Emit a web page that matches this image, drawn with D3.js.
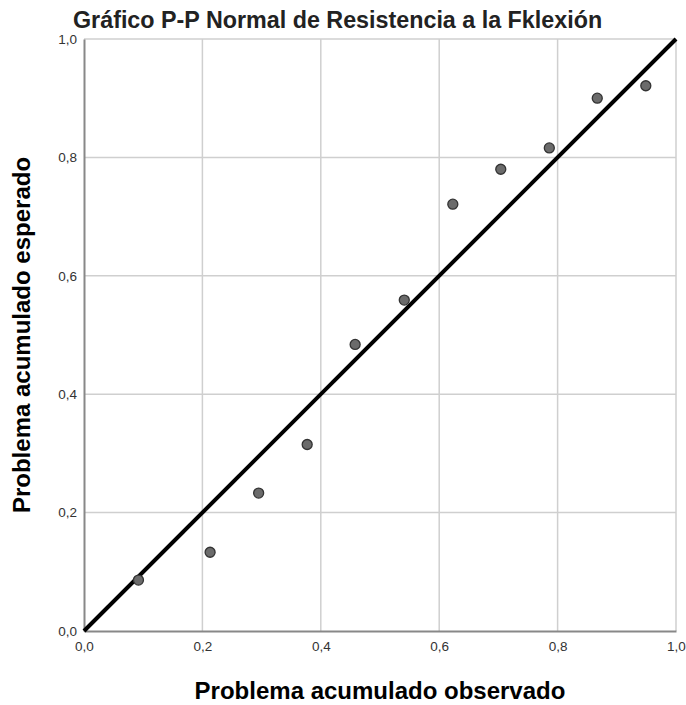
<!DOCTYPE html>
<html><head><meta charset="utf-8">
<script src="https://cdn.jsdelivr.net/npm/d3@7"></script>
<style>body{margin:0;background:#fff}svg{display:block}</style>
</head><body><svg id="c" width="686" height="705"></svg>
<script>
const title = "Gráfico P-P Normal de Resistencia a la Fklexión";
const xLabel = "Problema acumulado observado";
const yLabel = "Problema acumulado esperado";
const tickValues = [0, 0.2, 0.4, 0.6, 0.8, 1.0];
const observed = [0.092, 0.213, 0.295, 0.377, 0.458, 0.541, 0.623, 0.704, 0.786, 0.867, 0.949];
const expected = [0.086, 0.133, 0.233, 0.315, 0.484, 0.559, 0.721, 0.780, 0.816, 0.900, 0.921];
const refLine = [0, 1];

const svg = d3.select("#c");
const font = "'Liberation Sans', Arial, sans-serif";
const x = d3.scaleLinear().domain([0, 1]).range([84, 676]);
const y = d3.scaleLinear().domain([0, 1]).range([631, 39]);
const fmt = d => d3.format(".1f")(d).replace(".", ",");

// gridlines
svg.append("g").selectAll("line").data(tickValues.filter(d => d > 0)).join("line")
  .attr("x1", d => x(d)).attr("x2", d => x(d)).attr("y1", y(0)).attr("y2", y(1))
  .attr("stroke", "#cfcfcf").attr("stroke-width", 1.5);
svg.append("g").selectAll("line").data(tickValues.filter(d => d > 0)).join("line")
  .attr("y1", d => y(d)).attr("y2", d => y(d)).attr("x1", x(0)).attr("x2", x(1))
  .attr("stroke", "#cfcfcf").attr("stroke-width", 1.5);

// axes
const xAxis = svg.append("g").attr("transform", `translate(0,${y(0)})`)
  .call(d3.axisBottom(x).tickValues(tickValues).tickFormat(fmt).tickSize(0).tickPadding(10));
const yAxis = svg.append("g").attr("transform", `translate(${x(0)},0)`)
  .call(d3.axisLeft(y).tickValues(tickValues).tickFormat(fmt).tickSize(0).tickPadding(7));
[xAxis, yAxis].forEach(a => {
  a.select(".domain").attr("stroke", "#888").attr("stroke-width", 2);
  a.selectAll("text").attr("font-family", font).attr("font-size", 13.5).attr("fill", "#333");
});

// reference line
svg.append("line")
  .attr("x1", x(refLine[0])).attr("y1", y(refLine[0]))
  .attr("x2", x(refLine[1])).attr("y2", y(refLine[1]))
  .attr("stroke", "#000").attr("stroke-width", 4);

// points
svg.append("g").selectAll("circle").data(observed).join("circle")
  .attr("cx", d => x(d)).attr("cy", (d, i) => y(expected[i])).attr("r", 5)
  .attr("fill", "#6b6b6b").attr("stroke", "#333").attr("stroke-width", 1.3);

// title
svg.append("text").attr("x", 73).attr("y", 28).text(title)
  .attr("font-family", font).attr("font-size", 23.3).attr("font-weight", "bold").attr("fill", "#222");

svg.append("text").attr("x", 380).attr("y", 699).attr("text-anchor", "middle").text(xLabel)
  .attr("font-family", font).attr("font-size", 24).attr("font-weight", "bold").attr("fill", "#000");
svg.append("text").attr("transform", "translate(30,335) rotate(-90)").attr("text-anchor", "middle").text(yLabel)
  .attr("font-family", font).attr("font-size", 24).attr("font-weight", "bold").attr("fill", "#000");
</script></body></html>
